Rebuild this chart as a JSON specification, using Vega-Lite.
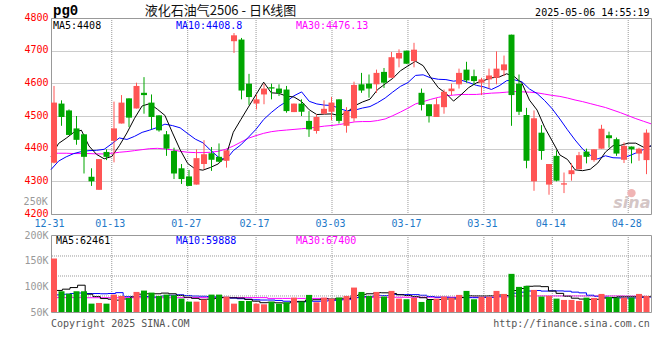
{
"$schema":"https://vega.github.io/schema/vega-lite/v6.json",
"background":"#ffffff",
"padding":{"left":23,"top":3,"right":5,"bottom":5},
"bounds":"flush",
"spacing":21,
"config":{"view":{"stroke":"#999999","strokeWidth":1},"font":"DejaVu Sans Mono","text":{"font":"DejaVu Sans Mono","fontSize":10,"baseline":"top"},
"axisY":{"title":null,"domain":false,"ticks":false,"tickSize":0,"labelPadding":3,"labelFont":"DejaVu Sans Mono","labelFontSize":10,"labelFlush":false,"labelOverlap":false},
"axisX":{"title":null,"domain":false,"ticks":false,"tickSize":0,"labelPadding":4,"labelFont":"DejaVu Sans Mono","labelFontSize":10,"labelAngle":0,"labelOverlap":false,"labelFlush":false,"grid":false}},
"datasets":{
"one":[{}],
"g":[{"d":"2025-01-13"},{"d":"2025-01-27"},{"d":"2025-02-17"},{"d":"2025-03-03"},{"d":"2025-03-17"},{"d":"2025-03-31"},{"d":"2025-04-14"},{"d":"2025-04-28"}],
"vg":[{"g":81200},{"g":120100},{"g":159100}],
"k":[
{"d":"2024-12-31","o":4357,"h":4592,"l":4355,"c":4541,"v":154200,"m5":4376,"m10":4336,"m30":4386,"vm5":89700,"vm10":80700,"vm30":78000},
{"d":"2025-01-02","o":4538,"h":4548,"l":4470,"c":4497,"v":90400,"m5":4416,"m10":4362,"m30":4386,"vm5":92000,"vm10":83300,"vm30":78000},
{"d":"2025-01-03","o":4517,"h":4520,"l":4442,"c":4442,"v":85800,"m5":4432,"m10":4375,"m30":4386,"vm5":94500,"vm10":84600,"vm30":78000},
{"d":"2025-01-06","o":4462,"h":4500,"l":4412,"c":4427,"v":90400,"m5":4450,"m10":4385,"m30":4385,"vm5":97600,"vm10":86000,"vm30":78000},
{"d":"2025-01-07","o":4444,"h":4444,"l":4324,"c":4375,"v":90400,"m5":4456.4,"m10":4391,"m30":4385,"vm5":102200,"vm10":87000,"vm30":78000},
{"d":"2025-01-08","o":4314,"h":4340,"l":4286,"c":4300,"v":66300,"m5":4408.2,"m10":4394,"m30":4385,"vm5":84700,"vm10":86000,"vm30":77800},
{"d":"2025-01-09","o":4274,"h":4368,"l":4274,"c":4368,"v":67600,"m5":4382.4,"m10":4395,"m30":4384,"vm5":80100,"vm10":86000,"vm30":77800},
{"d":"2025-01-10","o":4390,"h":4398,"l":4365,"c":4375,"v":66300,"m5":4369,"m10":4398,"m30":4384,"vm5":76200,"vm10":85500,"vm30":77800},
{"d":"2025-01-13","o":4424,"h":4544,"l":4358,"c":4462,"v":83900,"m5":4376,"m10":4415,"m30":4386,"vm5":74900,"vm10":86000,"vm30":77800},
{"d":"2025-01-14","o":4477,"h":4564,"l":4477,"c":4541,"v":81300,"m5":4409.2,"m10":4432.8,"m30":4389,"vm5":73100,"vm10":87700,"vm30":77800},
{"d":"2025-01-15","o":4554,"h":4554,"l":4466,"c":4495,"v":77400,"m5":4448.2,"m10":4428.2,"m30":4391,"vm5":75300,"vm10":80000,"vm30":77800},
{"d":"2025-01-16","o":4523,"h":4602,"l":4523,"c":4592,"v":89100,"m5":4493,"m10":4437.7,"m30":4394,"vm5":79600,"vm10":79900,"vm30":77800},
{"d":"2025-01-17","o":4571,"h":4619,"l":4507,"c":4564,"v":91700,"m5":4530.8,"m10":4449.9,"m30":4397,"vm5":84700,"vm10":80500,"vm30":77800},
{"d":"2025-01-20","o":4541,"h":4566,"l":4459,"c":4497,"v":87800,"m5":4537.8,"m10":4456.9,"m30":4400,"vm5":85500,"vm10":80200,"vm30":77800},
{"d":"2025-01-21","o":4502,"h":4502,"l":4452,"c":4456,"v":81300,"m5":4520.8,"m10":4465,"m30":4401,"vm5":85500,"vm10":79300,"vm30":77800},
{"d":"2025-01-22","o":4444,"h":4454,"l":4378,"c":4400,"v":83900,"m5":4501.8,"m10":4475,"m30":4399,"vm5":86800,"vm10":81100,"vm30":77800},
{"d":"2025-01-23","o":4393,"h":4403,"l":4307,"c":4324,"v":82600,"m5":4448.2,"m10":4470.6,"m30":4396,"vm5":85500,"vm10":82600,"vm30":77800},
{"d":"2025-01-24","o":4340,"h":4353,"l":4292,"c":4307,"v":76100,"m5":4396.8,"m10":4463.8,"m30":4392,"vm5":82300,"vm10":83500,"vm30":77800},
{"d":"2025-01-27","o":4315,"h":4335,"l":4286,"c":4286,"v":70200,"m5":4354.6,"m10":4446.2,"m30":4389,"vm5":78800,"vm10":82200,"vm30":78000},
{"d":"2025-02-05","o":4290,"h":4398,"l":4290,"c":4371,"v":70200,"m5":4337.6,"m10":4429.2,"m30":4388,"vm5":76600,"vm10":81100,"vm30":78000},
{"d":"2025-02-06","o":4353,"h":4426,"l":4337,"c":4383,"v":74100,"m5":4334.2,"m10":4418,"m30":4388,"vm5":74600,"vm10":80700,"vm30":78000},
{"d":"2025-02-07","o":4386,"h":4405,"l":4332,"c":4366,"v":83900,"m5":4342.6,"m10":4395.4,"m30":4389,"vm5":74900,"vm10":80200,"vm30":78000},
{"d":"2025-02-10","o":4375,"h":4416,"l":4358,"c":4360,"v":83900,"m5":4353.2,"m10":4375,"m30":4392,"vm5":76500,"vm10":79400,"vm30":78000},
{"d":"2025-02-11","o":4363,"h":4395,"l":4342,"c":4395,"v":80000,"m5":4375,"m10":4364.8,"m30":4398,"vm5":78400,"vm10":78600,"vm30":78000},
{"d":"2025-02-12","o":4729,"h":4754,"l":4693,"c":4747,"v":66300,"m5":4450.2,"m10":4393.9,"m30":4408,"vm5":77600,"vm10":77100,"vm30":78000},
{"d":"2025-02-13","o":4734,"h":4739,"l":4551,"c":4578,"v":71500,"m5":4489.2,"m10":4411.7,"m30":4420,"vm5":77100,"vm10":75900,"vm30":78000},
{"d":"2025-02-14","o":4599,"h":4629,"l":4534,"c":4558,"v":71500,"m5":4527.6,"m10":4435.1,"m30":4432,"vm5":74600,"vm10":74800,"vm30":78000},
{"d":"2025-02-17","o":4538,"h":4566,"l":4520,"c":4551,"v":66300,"m5":4565.8,"m10":4459.5,"m30":4440,"vm5":71100,"vm10":73800,"vm30":78000},
{"d":"2025-02-18","o":4566,"h":4599,"l":4536,"c":4584,"v":65000,"m5":4603.6,"m10":4489.3,"m30":4447,"vm5":68100,"vm10":73300,"vm30":78000},
{"d":"2025-02-19","o":4588,"h":4599,"l":4551,"c":4584,"v":70200,"m5":4571,"m10":4510.6,"m30":4452,"vm5":68900,"vm10":73300,"vm30":76500},
{"d":"2025-02-20","o":4584,"h":4597,"l":4561,"c":4570,"v":66300,"m5":4569.4,"m10":4529.3,"m30":4455,"vm5":67900,"vm10":72500,"vm30":76500},
{"d":"2025-02-21","o":4581,"h":4592,"l":4510,"c":4515,"v":68900,"m5":4560.8,"m10":4544.2,"m30":4457,"vm5":67300,"vm10":71000,"vm30":76500},
{"d":"2025-02-24","o":4512,"h":4538,"l":4512,"c":4538,"v":78000,"m5":4558.2,"m10":4562,"m30":4459,"vm5":69700,"vm10":70400,"vm30":76500},
{"d":"2025-02-25","o":4538,"h":4551,"l":4500,"c":4513,"v":70200,"m5":4544,"m10":4573.8,"m30":4461,"vm5":70700,"vm10":69400,"vm30":76500},
{"d":"2025-02-26","o":4485,"h":4515,"l":4436,"c":4459,"v":83300,"m5":4519,"m10":4545,"m30":4463,"vm5":73300,"vm10":71100,"vm30":76500},
{"d":"2025-02-27","o":4454,"h":4505,"l":4446,"c":4497,"v":68900,"m5":4504.4,"m10":4536.9,"m30":4466,"vm5":73900,"vm10":70900,"vm30":76500},
{"d":"2025-02-28","o":4507,"h":4548,"l":4505,"c":4522,"v":78000,"m5":4505.8,"m10":4533.3,"m30":4469,"vm5":75700,"vm10":71500,"vm30":76500},
{"d":"2025-03-03","o":4513,"h":4558,"l":4487,"c":4541,"v":76000,"m5":4506.4,"m10":4532.3,"m30":4471,"vm5":75300,"vm10":72500,"vm30":74000},
{"d":"2025-03-04","o":4551,"h":4551,"l":4477,"c":4485,"v":78000,"m5":4500.8,"m10":4522.4,"m30":4474,"vm5":76800,"vm10":73800,"vm30":74000},
{"d":"2025-03-05","o":4470,"h":4527,"l":4449,"c":4515,"v":81300,"m5":4512,"m10":4515.5,"m30":4478,"vm5":76400,"vm10":74900,"vm30":74000},
{"d":"2025-03-06","o":4493,"h":4605,"l":4483,"c":4595,"v":97600,"m5":4531.6,"m10":4518,"m30":4482,"vm5":82200,"vm10":78100,"vm30":78000},
{"d":"2025-03-07","o":4597,"h":4632,"l":4571,"c":4578,"v":89100,"m5":4542.8,"m10":4524.3,"m30":4483,"vm5":84400,"vm10":80100,"vm30":78000},
{"d":"2025-03-10","o":4599,"h":4627,"l":4556,"c":4584,"v":81300,"m5":4551.4,"m10":4528.9,"m30":4483,"vm5":85500,"vm10":80400,"vm30":78200},
{"d":"2025-03-11","o":4597,"h":4642,"l":4571,"c":4632,"v":89100,"m5":4580.8,"m10":4540.8,"m30":4486,"vm5":87700,"vm10":82300,"vm30":78300},
{"d":"2025-03-12","o":4635,"h":4647,"l":4586,"c":4602,"v":80000,"m5":4598.2,"m10":4555.1,"m30":4491,"vm5":87400,"vm10":81900,"vm30":78500},
{"d":"2025-03-13","o":4617,"h":4696,"l":4617,"c":4680,"v":91100,"m5":4615.2,"m10":4573.4,"m30":4501,"vm5":86100,"vm10":84200,"vm30":78700},
{"d":"2025-03-14","o":4676,"h":4704,"l":4649,"c":4693,"v":76100,"m5":4638.2,"m10":4590.5,"m30":4512,"vm5":83500,"vm10":84000,"vm30":78800},
{"d":"2025-03-17","o":4700,"h":4700,"l":4660,"c":4660,"v":74800,"m5":4653.4,"m10":4602.4,"m30":4524,"vm5":82200,"vm10":83900,"vm30":78800},
{"d":"2025-03-18","o":4668,"h":4724,"l":4649,"c":4703,"v":77400,"m5":4667.6,"m10":4624.2,"m30":4537,"vm5":79900,"vm10":83800,"vm30":78800},
{"d":"2025-03-19","o":4571,"h":4584,"l":4517,"c":4534,"v":69600,"m5":4654,"m10":4626.1,"m30":4544,"vm5":77800,"vm10":82600,"vm30":78800},
{"d":"2025-03-20","o":4536,"h":4536,"l":4480,"c":4500,"v":73500,"m5":4618,"m10":4616.6,"m30":4551,"vm5":74300,"vm10":80200,"vm30":78800},
{"d":"2025-03-21","o":4497,"h":4554,"l":4497,"c":4536,"v":76100,"m5":4586.6,"m10":4612.4,"m30":4557,"vm5":74300,"vm10":78900,"vm30":78800},
{"d":"2025-03-24","o":4527,"h":4581,"l":4507,"c":4574,"v":80000,"m5":4569.4,"m10":4611.4,"m30":4562,"vm5":75300,"vm10":78800,"vm30":78800},
{"d":"2025-03-25","o":4576,"h":4599,"l":4564,"c":4584,"v":78000,"m5":4545.6,"m10":4606.6,"m30":4564,"vm5":75400,"vm10":77700,"vm30":78800},
{"d":"2025-03-26","o":4597,"h":4645,"l":4584,"c":4632,"v":83300,"m5":4565.2,"m10":4609.6,"m30":4566,"vm5":78200,"vm10":78000,"vm30":78800},
{"d":"2025-03-27","o":4642,"h":4666,"l":4602,"c":4609,"v":91100,"m5":4587,"m10":4602.5,"m30":4566,"vm5":81700,"vm10":78000,"vm30":79000},
{"d":"2025-03-28","o":4622,"h":4642,"l":4595,"c":4607,"v":74800,"m5":4601.2,"m10":4593.9,"m30":4566,"vm5":81400,"vm10":77900,"vm30":79000},
{"d":"2025-03-31","o":4602,"h":4617,"l":4564,"c":4612,"v":79300,"m5":4608.8,"m10":4589.1,"m30":4568,"vm5":81300,"vm10":78300,"vm30":79000},
{"d":"2025-04-01","o":4612,"h":4645,"l":4584,"c":4624,"v":79300,"m5":4616.8,"m10":4581.2,"m30":4570,"vm5":81600,"vm10":78500,"vm30":79000},
{"d":"2025-04-02","o":4617,"h":4698,"l":4597,"c":4645,"v":91100,"m5":4619.4,"m10":4592.3,"m30":4571,"vm5":83100,"vm10":80700,"vm30":79200},
{"d":"2025-04-03","o":4640,"h":4685,"l":4622,"c":4658,"v":85200,"m5":4629.2,"m10":4608.1,"m30":4573,"vm5":81900,"vm10":81800,"vm30":79300},
{"d":"2025-04-07","o":4749,"h":4749,"l":4470,"c":4564,"v":124300,"m5":4620.6,"m10":4610.9,"m30":4575,"vm5":91800,"vm10":86600,"vm30":80800},
{"d":"2025-04-08","o":4599,"h":4627,"l":4503,"c":4513,"v":98900,"m5":4600.8,"m10":4604.8,"m30":4574,"vm5":95800,"vm10":88600,"vm30":81300},
{"d":"2025-04-09","o":4503,"h":4525,"l":4340,"c":4363,"v":100900,"m5":4548.6,"m10":4582.7,"m30":4573,"vm5":100100,"vm10":90900,"vm30":81300},
{"d":"2025-04-10","o":4300,"h":4517,"l":4271,"c":4493,"v":93000,"m5":4518.2,"m10":4568.8,"m30":4571,"vm5":100500,"vm10":91800,"vm30":81300},
{"d":"2025-04-11","o":4449,"h":4472,"l":4366,"c":4393,"v":80000,"m5":4465.2,"m10":4547.2,"m30":4567,"vm5":99400,"vm10":90700,"vm30":81300},
{"d":"2025-04-14","o":4290,"h":4353,"l":4259,"c":4353,"v":81300,"m5":4423,"m10":4521.8,"m30":4563,"vm5":90800,"vm10":91300,"vm30":81300},
{"d":"2025-04-15","o":4378,"h":4395,"l":4300,"c":4302,"v":76100,"m5":4380.8,"m10":4490.8,"m30":4560,"vm5":86300,"vm10":91100,"vm30":81300},
{"d":"2025-04-16","o":4290,"h":4327,"l":4264,"c":4294,"v":73500,"m5":4367,"m10":4457.8,"m30":4555,"vm5":80800,"vm10":90500,"vm30":81300},
{"d":"2025-04-17","o":4322,"h":4355,"l":4302,"c":4334,"v":73500,"m5":4335.2,"m10":4426.7,"m30":4549,"vm5":76900,"vm10":88700,"vm30":81300},
{"d":"2025-04-18","o":4337,"h":4390,"l":4337,"c":4380,"v":71500,"m5":4332.6,"m10":4398.9,"m30":4544,"vm5":75200,"vm10":87300,"vm30":81300},
{"d":"2025-04-21","o":4391,"h":4400,"l":4355,"c":4375,"v":78000,"m5":4337,"m10":4380,"m30":4538,"vm5":74500,"vm10":82700,"vm30":81300},
{"d":"2025-04-22","o":4365,"h":4398,"l":4360,"c":4398,"v":77400,"m5":4356.2,"m10":4368.5,"m30":4532,"vm5":74800,"vm10":80600,"vm30":81300},
{"d":"2025-04-23","o":4400,"h":4473,"l":4400,"c":4461,"v":85200,"m5":4389.6,"m10":4378.3,"m30":4526,"vm5":77100,"vm10":79000,"vm30":81300},
{"d":"2025-04-24","o":4441,"h":4452,"l":4403,"c":4432,"v":79300,"m5":4409.2,"m10":4372.2,"m30":4518,"vm5":78300,"vm10":77600,"vm30":81300},
{"d":"2025-04-25","o":4429,"h":4434,"l":4378,"c":4385,"v":78000,"m5":4410.2,"m10":4371.4,"m30":4510,"vm5":79600,"vm10":77400,"vm30":81300},
{"d":"2025-04-28","o":4366,"h":4419,"l":4356,"c":4408.5,"v":78000,"m5":4416.9,"m10":4377,"m30":4501,"vm5":79600,"vm10":77100,"vm30":81000},
{"d":"2025-04-29","o":4406.5,"h":4406.5,"l":4355,"c":4398,"v":78000,"m5":4416.9,"m10":4386.6,"m30":4492,"vm5":79700,"vm10":77300,"vm30":81000},
{"d":"2025-04-30","o":4385,"h":4403,"l":4363,"c":4400,"v":85200,"m5":4404.7,"m10":4397.2,"m30":4484,"vm5":79700,"vm10":78400,"vm30":80500},
{"d":"2025-05-06","o":4365,"h":4459,"l":4322,"c":4449,"v":81300,"m5":4408.1,"m10":4408.7,"m30":4476.1,"vm5":80100,"vm10":79200,"vm30":80000}
]},
"resolve":{"scale":{"x":"independent","y":"independent"}},
"vconcat":[
{
"width":600,"height":196,
"resolve":{"scale":{"x":"independent"},"axis":{"x":"independent"}},
"layer":[
{
 "encoding":{"x":{"field":"d","type":"ordinal","scale":{"type":"point","padding":0},
  "axis":{"orient":"bottom","values":["2024-12-31","2025-01-13","2025-01-27","2025-02-17","2025-03-03","2025-03-17","2025-03-31","2025-04-14","2025-04-28"],"labelExpr":"slice(datum.value, 5)","labelColor":"#1e78c8","labelOffset":-2}}},
 "layer":[
  {"data":{"name":"g"},"mark":{"type":"rule","color":"#999999","strokeDash":[1,1],"strokeWidth":1}},
  {"layer":[
   {"data":{"name":"k"},"mark":{"type":"line","color":"#ff00ff","strokeWidth":1},"encoding":{"y":{"field":"m30","type":"quantitative"}}},
   {"data":{"name":"k"},"mark":{"type":"line","color":"#0000ff","strokeWidth":1},"encoding":{"y":{"field":"m10","type":"quantitative"}}},
   {"data":{"name":"k"},"mark":{"type":"line","color":"#000000","strokeWidth":1},"encoding":{"y":{"field":"m5","type":"quantitative"}}}
  ],
  "encoding":{"y":{"type":"quantitative","scale":{"domain":[4200,4800],"nice":false,"zero":false},
   "axis":{"values":[4200,4300,4400,4500,4600,4700,4800],"format":"d","labelColor":"#ff0000","labelOffset":-1,"grid":true,"gridColor":"#999999","gridDash":[1,1]}}}}
 ]
},
{
 "encoding":{"x":{"field":"d","type":"ordinal","scale":{"type":"band","paddingInner":0.2,"paddingOuter":0.1,"align":0},"axis":null},
  "y":{"type":"quantitative","scale":{"domain":[4200,4800],"nice":false,"zero":false},
   "axis":{"values":[4200,4300,4400,4500,4600,4700,4800],"format":"d","labelColor":"#ff0000","labelOffset":-1,"grid":true,"gridColor":"#999999","gridDash":[1,1]}}},
 "layer":[
  {"data":{"name":"k"},"mark":{"type":"rule","strokeWidth":1},
   "encoding":{"y":{"field":"l","type":"quantitative"},"y2":{"field":"h"},
    "color":{"condition":{"test":"datum.c >= datum.o","value":"#ff5555"},"value":"#00a600"}}},
  {"data":{"name":"k"},"mark":{"type":"bar"},
   "encoding":{"y":{"field":"o","type":"quantitative"},"y2":{"field":"c"},
    "color":{"condition":{"test":"datum.c >= datum.o","value":"#ff5555"},"value":"#00a600"}}},
  {"data":{"name":"one"},"mark":{"type":"text","text":"MA5:4408","align":"left","dx":-1,"color":"#000000"},
   "encoding":{"x":{"datum":"2024-12-31","type":"ordinal"},"y":{"datum":4790,"type":"quantitative"}}},
  {"data":{"name":"one"},"mark":{"type":"text","text":"MA10:4408.8","align":"left","dx":2,"color":"#0000ff"},
   "encoding":{"x":{"datum":"2025-01-23","type":"ordinal"},"y":{"datum":4790,"type":"quantitative"}}},
  {"data":{"name":"one"},"mark":{"type":"text","text":"MA30:4476.13","align":"left","dx":2,"color":"#ff00ff"},
   "encoding":{"x":{"datum":"2025-02-24","type":"ordinal"},"y":{"datum":4790,"type":"quantitative"}}},
  {"data":{"name":"one"},"mark":{"type":"text","text":"pg0","align":"left","dx":-1,"color":"#000000","font":"Liberation Mono","fontSize":14,"fontWeight":"bold"},
   "encoding":{"x":{"datum":"2024-12-31","type":"ordinal"},"y":{"datum":4842,"type":"quantitative"}}},
  {"data":{"name":"one"},"mark":{"type":"text","text":"液化石油气2506 - 日K线图","align":"center","dx":1.5,"color":"#111111","font":"Noto Sans CJK SC","fontSize":13},
   "encoding":{"x":{"datum":"2025-02-10","type":"ordinal"},"y":{"datum":4841,"type":"quantitative"}}},
  {"data":{"name":"one"},"mark":{"type":"text","text":"2025-05-06 14:55:19","align":"right","dx":3,"color":"#000000"},
   "encoding":{"x":{"datum":"2025-05-06","type":"ordinal"},"y":{"datum":4830,"type":"quantitative"}}},
  {"data":{"name":"one"},"mark":{"type":"text","text":"250K","align":"right","baseline":"middle","dx":-6.3,"color":"#999999"},
   "encoding":{"x":{"datum":"2024-12-31","type":"ordinal"},"y":{"datum":4238,"type":"quantitative"}}},
  {"data":{"name":"one"},"mark":{"type":"point","filled":true,"color":"#f0b4b4","opacity":1,"size":70,"shape":"circle"},
   "encoding":{"x":{"datum":"2025-04-29","type":"ordinal"},"y":{"datum":4264,"type":"quantitative"}}},
  {"data":{"name":"one"},"mark":{"type":"text","text":"sina","align":"right","baseline":"alphabetic","dx":4,"color":"#d4c6c6","font":"DejaVu Sans","fontSize":16,"fontStyle":"italic","fontWeight":"bold"},
   "encoding":{"x":{"datum":"2025-05-06","type":"ordinal"},"y":{"datum":4218,"type":"quantitative"}}}
 ]
}
]
},
{
"width":600,"height":77,
"resolve":{"scale":{"x":"independent"},"axis":{"x":"independent"}},
"layer":[
{
 "encoding":{"x":{"field":"d","type":"ordinal","scale":{"type":"point","padding":0},"axis":null}},
 "layer":[
  {"data":{"name":"g"},"mark":{"type":"rule","color":"#999999","strokeDash":[1,1],"strokeWidth":1}},
  {"layer":[
   {"data":{"name":"k"},"mark":{"type":"line","color":"#ff00ff","strokeWidth":1,"interpolate":"step"},"encoding":{"y":{"field":"vm30","type":"quantitative"}}},
   {"data":{"name":"k"},"mark":{"type":"line","color":"#0000ff","strokeWidth":1,"interpolate":"step"},"encoding":{"y":{"field":"vm10","type":"quantitative"}}},
   {"data":{"name":"k"},"mark":{"type":"line","color":"#000000","strokeWidth":1,"interpolate":"step"},"encoding":{"y":{"field":"vm5","type":"quantitative"}}}
  ],
  "encoding":{"y":{"type":"quantitative","scale":{"domain":[50000,200000],"nice":false,"zero":false},
   "axis":{"values":[50000,100000,150000,200000],"labelExpr":"(datum.value/1000) + 'K'","labelColor":"#999999","grid":false}}}}
 ]
},
{
 "encoding":{"x":{"field":"d","type":"ordinal","scale":{"type":"band","paddingInner":0.2,"paddingOuter":0.1,"align":0},"axis":null},
  "y":{"type":"quantitative","scale":{"domain":[50000,200000],"nice":false,"zero":false},
   "axis":{"values":[50000,100000,150000,200000],"labelExpr":"(datum.value/1000) + 'K'","labelColor":"#999999","grid":false}}},
 "layer":[
  {"data":{"name":"vg"},"mark":{"type":"rule","color":"#999999","strokeDash":[1,1],"strokeWidth":1},
   "encoding":{"x":null,"y":{"field":"g","type":"quantitative"}}},
  {"data":{"name":"k"},"mark":{"type":"bar"},
   "encoding":{"y":{"field":"v","type":"quantitative"},"y2":{"datum":50000},
    "color":{"condition":{"test":"datum.c >= datum.o","value":"#ff5555"},"value":"#00a600"}}},
  {"data":{"name":"one"},"mark":{"type":"text","text":"MA5:62461","align":"left","dx":2,"color":"#000000"},
   "encoding":{"x":{"datum":"2024-12-31","type":"ordinal"},"y":{"datum":197700,"type":"quantitative"}}},
  {"data":{"name":"one"},"mark":{"type":"text","text":"MA10:59888","align":"left","dx":2,"color":"#0000ff"},
   "encoding":{"x":{"datum":"2025-01-23","type":"ordinal"},"y":{"datum":197700,"type":"quantitative"}}},
  {"data":{"name":"one"},"mark":{"type":"text","text":"MA30:67400","align":"left","dx":2,"color":"#ff00ff"},
   "encoding":{"x":{"datum":"2025-02-24","type":"ordinal"},"y":{"datum":197700,"type":"quantitative"}}},
  {"data":{"name":"one"},"mark":{"type":"text","text":"Copyright 2025 SINA.COM","align":"left","dx":-3,"color":"#555555"},
   "encoding":{"x":{"datum":"2024-12-31","type":"ordinal"},"y":{"datum":36200,"type":"quantitative"}}},
  {"data":{"name":"one"},"mark":{"type":"text","text":"http://finance.sina.com.cn","align":"right","dx":3.3,"color":"#555555"},
   "encoding":{"x":{"datum":"2025-05-06","type":"ordinal"},"y":{"datum":36200,"type":"quantitative"}}}
 ]
}
]
}
]
}
